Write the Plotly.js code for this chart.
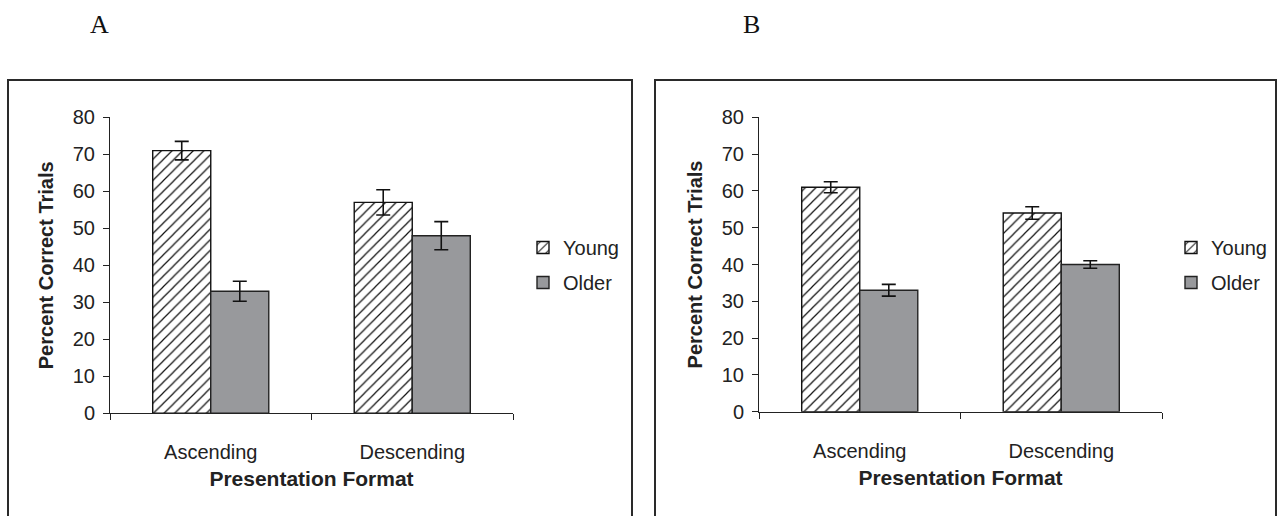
<!DOCTYPE html>
<html>
<head>
<meta charset="utf-8">
<script src="https://cdn.plot.ly/plotly-3.0.1.min.js"></script>
<style>html,body{margin:0;padding:0;background:#fff;}#chart{width:1280px;height:516px;}</style>
</head>
<body>
<div id="chart"></div>
<script>
// ---- data ----
const categories = ['Ascending', 'Descending'];
const seriesNames = ['Young', 'Older'];
const panelLabels = ['A', 'B'];
// Panel A
const youngA = [71, 57];
const youngAErr = [2.5, 3.4];
const olderA = [33, 48];
const olderAErr = [2.7, 3.8];
// Panel B
const youngB = [61, 54];
const youngBErr = [1.5, 1.7];
const olderB = [33, 40];
const olderBErr = [1.6, 1.0];
const yTicks = [0, 10, 20, 30, 40, 50, 60, 70, 80];
const yTitle = 'Percent Correct Trials';
const xTitle = 'Presentation Format';

// ---- styles ----
const FONT = 'Liberation Sans, Arial, sans-serif';
const TXT = '#222222';
const GRAY = '#98999c';

function youngTrace(y, err, xa, ya, lg, grp) {
  return {
    type: 'bar', name: seriesNames[0], x: categories, y: y,
    xaxis: xa, yaxis: ya, legend: lg, legendgroup: grp,
    marker: {
      color: '#ffffff',
      line: {color: '#111111', width: 1.4},
      pattern: {shape: '/', fgcolor: '#111111', bgcolor: '#ffffff', size: 7.5, solidity: 0.16}
    },
    error_y: {type: 'data', array: err, visible: true, color: '#111111', thickness: 1.6, width: 7},
    hoverinfo: 'skip'
  };
}
function olderTrace(y, err, xa, ya, lg, grp, lineW) {
  return {
    type: 'bar', name: seriesNames[1], x: categories, y: y,
    xaxis: xa, yaxis: ya, legend: lg, legendgroup: grp,
    marker: {color: GRAY, line: {color: '#222222', width: lineW}},
    error_y: {type: 'data', array: err, visible: true, color: '#111111', thickness: 1.6, width: 7},
    hoverinfo: 'skip'
  };
}

const traces = [
  youngTrace(youngA, youngAErr, 'x', 'y', 'legend', 'a1'),
  olderTrace(olderA, olderAErr, 'x', 'y', 'legend', 'a2', 1.4),
  youngTrace(youngB, youngBErr, 'x2', 'y2', 'legend2', 'b1'),
  olderTrace(olderB, olderBErr, 'x2', 'y2', 'legend2', 'b2', 1.4)
];

function xAxis(domain, anchor) {
  return {
    domain: domain, anchor: anchor, type: 'category',
    showline: true, linecolor: '#222', linewidth: 1,
    ticks: 'outside', tickson: 'boundaries', ticklen: 6, tickcolor: '#222', tickwidth: 1,
    ticklabelstandoff: 21,
    tickfont: {family: FONT, size: 20, color: TXT},
    showgrid: false, zeroline: false, automargin: false, fixedrange: true,
    title: {text: xTitle, font: {family: FONT, size: 21, color: TXT, weight: 'bold'}, standoff: 9}
  };
}
function yAxis(domain, anchor) {
  return {
    domain: domain, anchor: anchor, range: [0, 80],
    tickvals: yTicks, ticktext: yTicks.map(String),
    showline: true, linecolor: '#222', linewidth: 1,
    ticks: 'outside', ticklen: 6, tickcolor: '#222', tickwidth: 1,
    ticklabelstandoff: 4,
    tickfont: {family: FONT, size: 20, color: TXT},
    showgrid: false, zeroline: false, automargin: false, fixedrange: true,
    title: {text: yTitle, font: {family: FONT, size: 20, color: TXT, weight: 'bold'}, standoff: 13}
  };
}

function legendCfg(x) {
  return {
    x: x, xanchor: 'left', y: 1 - 228 / 516, yanchor: 'top',
    orientation: 'v', tracegroupgap: 6, bgcolor: 'rgba(0,0,0,0)',
    font: {family: FONT, size: 20, color: TXT}, itemwidth: 30
  };
}

const frameTop = 1 - 80 / 516;
const layout = {
  width: 1280, height: 516,
  margin: {l: 0, r: 0, t: 0, b: 0},
  paper_bgcolor: '#ffffff', plot_bgcolor: 'rgba(0,0,0,0)',
  barmode: 'group', bargap: 0.424, bargroupgap: 0,
  showlegend: true,
  xaxis: xAxis([110 / 1280, 513 / 1280], 'y'),
  yaxis: yAxis([1 - 413.3 / 516, 1 - 117.3 / 516], 'x'),
  xaxis2: xAxis([759 / 1280, 1162 / 1280], 'y2'),
  yaxis2: yAxis([1 - 411.7 / 516, 1 - 117.3 / 516], 'x2'),
  legend: legendCfg(523 / 1280),
  legend2: legendCfg(1171 / 1280),
  shapes: [
    {type: 'rect', xref: 'paper', yref: 'paper', x0: 8 / 1280, x1: 632 / 1280, y0: -0.1, y1: frameTop,
     line: {color: '#2a2a2a', width: 2}, fillcolor: 'rgba(0,0,0,0)', layer: 'below'},
    {type: 'rect', xref: 'paper', yref: 'paper', x0: 655 / 1280, x1: 1276 / 1280, y0: -0.1, y1: frameTop,
     line: {color: '#2a2a2a', width: 2}, fillcolor: 'rgba(0,0,0,0)', layer: 'below'}
  ],
  annotations: [
    {text: panelLabels[0], xref: 'paper', yref: 'paper', x: 99 / 1280, y: 1 - 25 / 516,
     showarrow: false, xanchor: 'center', yanchor: 'middle',
     font: {family: 'Liberation Serif, Times New Roman, serif', size: 26, color: '#111'}},
    {text: panelLabels[1], xref: 'paper', yref: 'paper', x: 751 / 1280, y: 1 - 25 / 516,
     showarrow: false, xanchor: 'center', yanchor: 'middle',
     font: {family: 'Liberation Serif, Times New Roman, serif', size: 26, color: '#111'}}
  ]
};

Plotly.newPlot('chart', traces, layout, {staticPlot: true, displayModeBar: false});
</script>
</body>
</html>
